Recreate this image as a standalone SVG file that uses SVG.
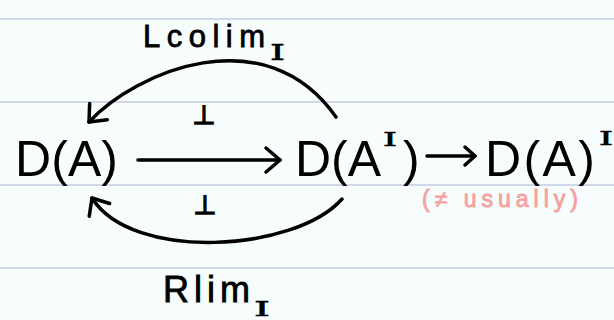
<svg xmlns="http://www.w3.org/2000/svg" width="614" height="320" viewBox="0 0 614 320">
<style>
.bg{fill:#f7fcfd}
.rule{stroke:#cfd8e8;stroke-width:2}
.node{font-family:"Liberation Sans","DejaVu Sans",sans-serif;font-size:50px;fill:#000}
.idx{font-family:"DejaVu Serif","Liberation Serif",serif;fill:#000;stroke:#000;stroke-width:0.6}
.lbl{font-family:"Liberation Sans","DejaVu Sans",sans-serif;fill:#000;stroke:#000;stroke-width:0.8}
.perp{font-family:"DejaVu Sans",sans-serif;font-size:26px;text-anchor:middle;fill:#000;stroke:#000;stroke-width:1.6}
.note{font-family:"Liberation Sans","DejaVu Sans",sans-serif;font-size:23px;fill:#f5a3a0;stroke:#f5a3a0;stroke-width:0.9}
.edge{fill:none;stroke:#000;stroke-width:3.5;stroke-linecap:round;stroke-linejoin:round}
.head{fill:none;stroke:#000;stroke-width:3.5;stroke-linecap:round;stroke-linejoin:round}
</style>
<defs>
<marker id="ah" markerUnits="userSpaceOnUse" markerWidth="20" markerHeight="28" refX="16" refY="13" orient="auto" overflow="visible">
<path class="head" d="M2 1 L16 13 L2 25"/>
</marker>
<marker id="ahs" markerUnits="userSpaceOnUse" markerWidth="16" markerHeight="22" refX="12" refY="10" orient="auto" overflow="visible">
<path class="head" d="M2 1 L12 10 L2 19"/>
</marker>
</defs>
<rect class="bg" x="0" y="0" width="614" height="320"/>
<g id="rules">
<line class="rule" x1="0" y1="19" x2="614" y2="19"/>
<line class="rule" x1="0" y1="102" x2="614" y2="102"/>
<line class="rule" x1="0" y1="185" x2="614" y2="185"/>
<line class="rule" x1="0" y1="268" x2="614" y2="268"/>
</g>
<g id="connectors">
<path id="e-main" class="edge" d="M138 160 H280" marker-end="url(#ah)"/>
<path id="e-eval" class="edge" d="M427 156 H475" marker-end="url(#ahs)"/>
<path id="e-colim" class="edge" d="M336 117 C265 16, 135 72, 89 122" marker-end="url(#ah)"/>
<path id="e-lim" class="edge" d="M342 199 C295 252, 132 262, 92 198" marker-end="url(#ah)"/>
<g id="edge-labels">
<text class="lbl" x="143" y="47" font-size="31" textLength="122" lengthAdjust="spacing">Lcolim</text>
<text class="idx" x="270" y="60" font-size="22" textLength="15" lengthAdjust="spacingAndGlyphs">I</text>
<text class="lbl" x="163" y="302" font-size="36" textLength="87" lengthAdjust="spacing">Rlim</text>
<text class="idx" x="254" y="316" font-size="21" textLength="16" lengthAdjust="spacingAndGlyphs">I</text>
<text class="perp" x="204" y="124">⊥</text>
<text class="perp" x="205" y="214">⊥</text>
</g>
</g>
<g id="n-DA">
<text class="node" x="15" y="176" textLength="103" lengthAdjust="spacing">D(A)</text>
</g>
<g id="n-DAI">
<text class="node" x="295" y="176">D(A</text>
<text class="idx" x="383" y="146" font-size="18" textLength="14" lengthAdjust="spacingAndGlyphs">I</text>
<text class="node" x="403" y="176">)</text>
</g>
<g id="n-DA-I">
<text class="node" x="485" y="176" textLength="110" lengthAdjust="spacing">D(A)</text>
<text class="idx" x="599" y="145" font-size="18" textLength="14" lengthAdjust="spacingAndGlyphs">I</text>
</g>
<g id="note">
<text class="note" x="422" y="207" textLength="156" lengthAdjust="spacing">(≠ usually)</text>
</g>
</svg>
